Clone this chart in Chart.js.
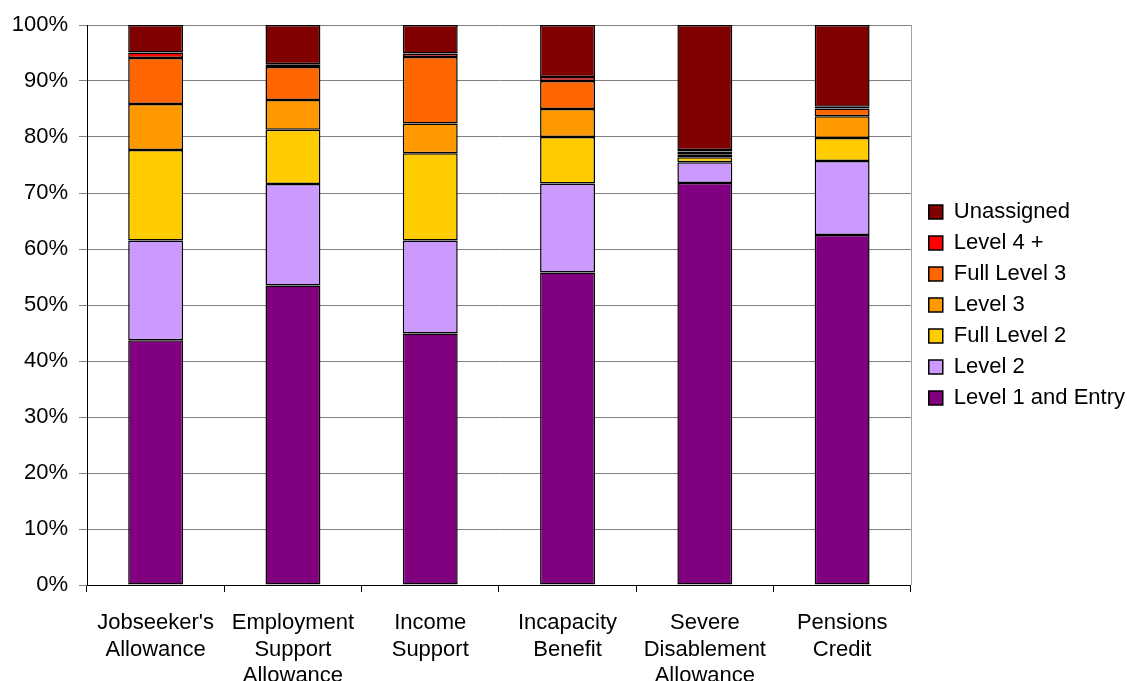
<!DOCTYPE html>
<html>
<head>
<meta charset="utf-8">
<title>Qualification levels by benefit</title>
<script src="https://cdn.jsdelivr.net/npm/chart.js@4/dist/chart.umd.min.js"></script>
<style>
  html, body { margin: 0; padding: 0; background: #fff; overflow: hidden; }
  #wrap { width: 1127px; height: 681px; position: relative; }
</style>
</head>
<body>
<div id="wrap"><canvas id="levelsChart"></canvas></div>
<script>
// --- Data for the chart: ---
const benefits = [
  ["Jobseeker's", 'Allowance'],
  ['Employment', 'Support', 'Allowance'],
  ['Income', 'Support'],
  ['Incapacity', 'Benefit'],
  ['Severe', 'Disablement', 'Allowance'],
  ['Pensions', 'Credit']
];

// share of claimants (%) at each level, one value per benefit
const level1Entry = [43.7, 53.5, 44.9, 55.8, 71.8, 62.5];
const level2      = [17.8, 18.1, 16.6, 15.9,  3.7, 13.2];
const fullLevel2  = [16.2,  9.7, 15.6,  8.3,  0.9,  4.1];
const level3      = [ 8.2,  5.3,  5.3,  5.0,  0.5,  3.9];
const fullLevel3  = [ 8.2,  5.9, 11.9,  5.0,  0.5,  1.4];
const level4Plus  = [ 1.0,  0.5,  0.6,  0.7,  0.3,  0.3];
const unassigned  = [ 4.9,  7.0,  5.1,  9.3, 22.3, 14.6];

const yTicks = [0, 10, 20, 30, 40, 50, 60, 70, 80, 90, 100];

const FONT = 'Liberation Sans, Arial, sans-serif';

const makeSet = (label, data, colour) => ({
    label: label,
    data: data,
    backgroundColor: colour,
    borderColor: '#000',
    borderWidth: 1.5,
    borderSkipped: false,
    inflateAmount: 0,
    barPercentage: 0.4,
    categoryPercentage: 1.0
});

// gray frame line on the right of the plot, and nudge the legend a bit
const framePlugin = {
    id: 'frame',
    afterLayout(chart) {
        chart.legend.left += 9;
        chart.legend.right += 9;
    },
    afterDraw(chart) {
        const {ctx, chartArea} = chart;
        ctx.save();
        ctx.strokeStyle = '#a0a0a0';
        ctx.lineWidth = 1;
        ctx.beginPath();
        ctx.moveTo(Math.round(chartArea.right) + 0.5, chartArea.top);
        ctx.lineTo(Math.round(chartArea.right) + 0.5, chartArea.bottom);
        ctx.stroke();
        ctx.restore();
    }
};

const createLevelsChart = () => {
    const ctx = document.querySelector('#levelsChart').getContext('2d');
    new Chart(ctx, {
        type: 'bar',
        data: {
            labels: benefits,
            datasets: [
                makeSet('Level 1 and Entry', level1Entry, '#800080'),
                makeSet('Level 2', level2, '#CC99FF'),
                makeSet('Full Level 2', fullLevel2, '#FFCC00'),
                makeSet('Level 3', level3, '#FF9900'),
                makeSet('Full Level 3', fullLevel3, '#FF6600'),
                makeSet('Level 4 +', level4Plus, '#FF0000'),
                makeSet('Unassigned', unassigned, '#800000')
            ]
        },
        options: {
            responsive: true,
            maintainAspectRatio: false,
            animation: false,
            layout: { padding: { top: 25, right: 1, left: 0, bottom: 0 } },
            plugins: {
                tooltip: { enabled: false },
                legend: {
                    position: 'right',
                    fullSize: false,
                    reverse: true,
                    labels: {
                        boxWidth: 14,
                        boxHeight: 14,
                        padding: 9,
                        textAlign: 'left',
                        color: '#000',
                        font: { family: FONT, size: 22 }
                    }
                }
            },
            scales: {
                x: {
                    stacked: true,
                    afterFit: (scale) => { scale.height = 96; },
                    grid: {
                        offset: true,
                        drawOnChartArea: false,
                        drawTicks: true,
                        tickLength: 7,
                        color: '#000'
                    },
                    border: { color: '#000', width: 1 },
                    ticks: {
                        color: '#000',
                        padding: 18,
                        maxRotation: 0,
                        autoSkip: false,
                        font: { family: FONT, size: 22 }
                    }
                },
                y: {
                    stacked: true,
                    min: 0,
                    max: 100,
                    afterFit: (scale) => { scale.width = 87; },
                    afterBuildTicks: (scale) => {
                        scale.ticks = yTicks.map(v => ({ value: v }));
                    },
                    grid: {
                        color: '#808080',
                        tickLength: 8
                    },
                    border: { color: '#000', width: 1 },
                    ticks: {
                        color: '#000',
                        padding: 11,
                        font: { family: FONT, size: 22 },
                        callback: (val) => val + '%'
                    }
                }
            }
        },
        plugins: [framePlugin]
    });
};

createLevelsChart();
</script>
</body>
</html>
